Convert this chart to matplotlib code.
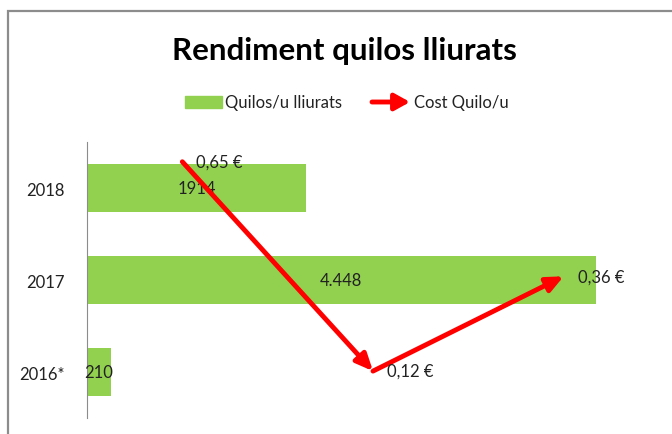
import matplotlib
matplotlib.use('Agg')
import matplotlib.pyplot as plt
from matplotlib.patches import Rectangle, FancyArrowPatch

# data (bottom-up order as Excel draws a bar chart)
YEARS = ['2016*', '2017', '2018']
KILOS = [210, 4448, 1914]
KILO_LABELS = ['210', '4.448', '1914']

# cost line, in drawing order
COST = [0.65, 0.12, 0.36]
COST_LABELS = ['0,65 €', '0,12 €', '0,36 €']

GREEN = '#92d050'
RED = '#ff0000'

plt.rcParams['font.family'] = ['Lato', 'DejaVu Sans']

W, H = 672, 435
fig = plt.figure(figsize=(W / 100, H / 100), dpi=100)

# outer chart frame (cut off on the right / bottom like the screenshot)
fig.patches.append(Rectangle((8 / W, -0.1), 1.0, 1 - 12 / H + 0.1,
                             transform=fig.transFigure, fill=False,
                             edgecolor='#8c8c8c', lw=1.6))

fig.text(344 / W, 1 - 51 / H, 'Rendiment quilos lliurats', ha='center',
         va='center', fontsize=22.5, fontweight='bold')

# bars
box = [87 / W, 1 - 419.5 / H, 572 / W, 276.5 / H]
ax = fig.add_axes(box)
pos = list(range(len(YEARS)))
bars = ax.barh(pos, KILOS, height=0.52, color=GREEN)
ax.set_xlim(0, 5000)
ax.set_ylim(-0.5, len(YEARS) - 0.5)
ax.set_yticks(pos)
ax.set_yticklabels(YEARS, fontsize=12, color='#222222')
ax.tick_params(axis='y', length=0, pad=16)
ax.set_xticks([])
for s in ['top', 'right', 'bottom']:
    ax.spines[s].set_visible(False)
ax.spines['left'].set_color('#8c8c8c')
for b, lab in zip(bars, KILO_LABELS):
    ax.text(b.get_width() / 2, b.get_y() + b.get_height() / 2, lab,
            ha='center', va='center', fontsize=12, color='#222222')

# cost line with arrows on its own axes
ax2 = fig.add_axes(box)
ax2.set_xlim(0, len(COST))
ax2.set_ylim(0, 0.7)
ax2.axis('off')
xs = [i + 0.5 for i in range(len(COST))]
for i in range(len(COST) - 1):
    ax2.annotate('', xy=(xs[i + 1], COST[i + 1]), xytext=(xs[i], COST[i]),
                 arrowprops=dict(arrowstyle='-|>,head_length=1.0,head_width=0.45',
                                 color=RED, lw=3.5, shrinkA=0, shrinkB=0))
for x, c, lab in zip(xs, COST, COST_LABELS):
    ax2.annotate(lab, (x, c), xytext=(10, 0), textcoords='offset points',
                 ha='left', va='center', fontsize=12, color='#222222')

# legend drawn by hand
fig.patches.append(Rectangle((185 / W, 1 - 109 / H), 37 / W, 12 / H,
                             transform=fig.transFigure, color=GREEN))
fig.text(225 / W, 1 - 103 / H, 'Quilos/u lliurats', ha='left', va='center',
         fontsize=12, color='#222222')
fig.add_artist(FancyArrowPatch(
    (372 / W, 1 - 103 / H), (410 / W, 1 - 103 / H), transform=fig.transFigure,
    arrowstyle='-|>,head_length=9,head_width=5', color=RED, lw=3.5,
    shrinkA=0, shrinkB=0))
fig.text(414 / W, 1 - 103 / H, 'Cost Quilo/u', ha='left', va='center',
         fontsize=12, color='#222222')

plt.savefig('out.png', dpi=100)
